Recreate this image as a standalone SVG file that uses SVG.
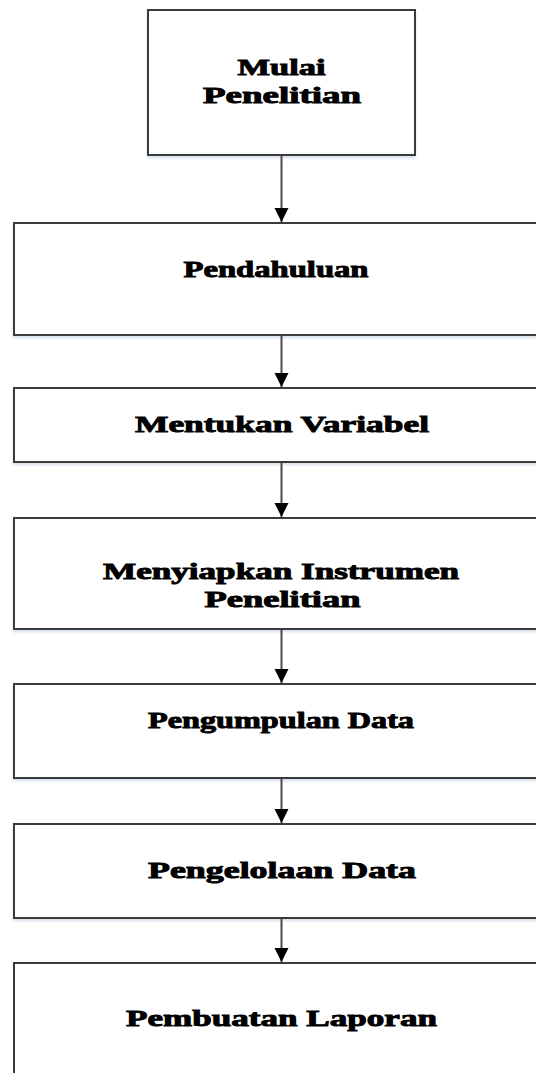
<svg xmlns="http://www.w3.org/2000/svg" width="536" height="1073" viewBox="0 0 536 1073">
  <style>
    .box { fill: #ffffff; stroke: #3a3a3a; stroke-width: 2; }
    .lbl { font-family: "Liberation Serif", "Times New Roman", serif; font-weight: bold; font-size: 23px; fill: #000000; stroke: #000000; stroke-width: 0.9; text-anchor: middle; }
    .conn { stroke: #4a4a4a; stroke-width: 2; fill: none; }
  </style>
  <defs>
    <marker id="arrow" markerUnits="userSpaceOnUse" markerWidth="14" markerHeight="16" viewBox="0 0 14 16" refX="14" refY="8" orient="auto">
      <path d="M0,1 L14,8 L0,15 Z" fill="#000000"/>
    </marker>
    <filter id="sh" x="-5%" y="-5%" width="110%" height="120%">
      <feDropShadow dx="0" dy="2" stdDeviation="1.5" flood-color="#b8c8e0" flood-opacity="0.6"/>
    </filter>
  </defs>

  <g id="n1">
    <rect class="box" x="148" y="10" width="267" height="145" filter="url(#sh)"/>
    <text class="lbl" x="281.5" y="75" textLength="88" lengthAdjust="spacingAndGlyphs">Mulai</text>
    <text class="lbl" x="282" y="103" textLength="158" lengthAdjust="spacingAndGlyphs">Penelitian</text>
  </g>
  <g id="n2">
    <rect class="box" x="14" y="223" width="560" height="112" filter="url(#sh)"/>
    <text class="lbl" x="276" y="277" textLength="185" lengthAdjust="spacingAndGlyphs">Pendahuluan</text>
  </g>
  <g id="n3">
    <rect class="box" x="14" y="388" width="560" height="74" filter="url(#sh)"/>
    <text class="lbl" x="282" y="432" textLength="294" lengthAdjust="spacingAndGlyphs">Mentukan Variabel</text>
  </g>
  <g id="n4">
    <rect class="box" x="14" y="518" width="560" height="111" filter="url(#sh)"/>
    <text class="lbl" x="281" y="579" textLength="356" lengthAdjust="spacingAndGlyphs">Menyiapkan Instrumen</text>
    <text class="lbl" x="282.5" y="607" textLength="156" lengthAdjust="spacingAndGlyphs">Penelitian</text>
  </g>
  <g id="n5">
    <rect class="box" x="14" y="684" width="560" height="94" filter="url(#sh)"/>
    <text class="lbl" x="281" y="728" textLength="266" lengthAdjust="spacingAndGlyphs">Pengumpulan Data</text>
  </g>
  <g id="n6">
    <rect class="box" x="14" y="824" width="560" height="94" filter="url(#sh)"/>
    <text class="lbl" x="282" y="878" textLength="268" lengthAdjust="spacingAndGlyphs">Pengelolaan Data</text>
  </g>
  <g id="n7">
    <rect class="box" x="14" y="963" width="560" height="200"/>
    <text class="lbl" x="281.5" y="1026" textLength="311" lengthAdjust="spacingAndGlyphs">Pembuatan Laporan</text>
  </g>

  <g id="connectors">
    <line class="conn" x1="281.5" y1="156" x2="281.5" y2="222" marker-end="url(#arrow)"/>
    <line class="conn" x1="281.5" y1="336" x2="281.5" y2="387" marker-end="url(#arrow)"/>
    <line class="conn" x1="281.5" y1="463" x2="281.5" y2="517" marker-end="url(#arrow)"/>
    <line class="conn" x1="281.5" y1="630" x2="281.5" y2="683" marker-end="url(#arrow)"/>
    <line class="conn" x1="281.5" y1="779" x2="281.5" y2="823" marker-end="url(#arrow)"/>
    <line class="conn" x1="281.5" y1="919" x2="281.5" y2="962" marker-end="url(#arrow)"/>
  </g>
</svg>
